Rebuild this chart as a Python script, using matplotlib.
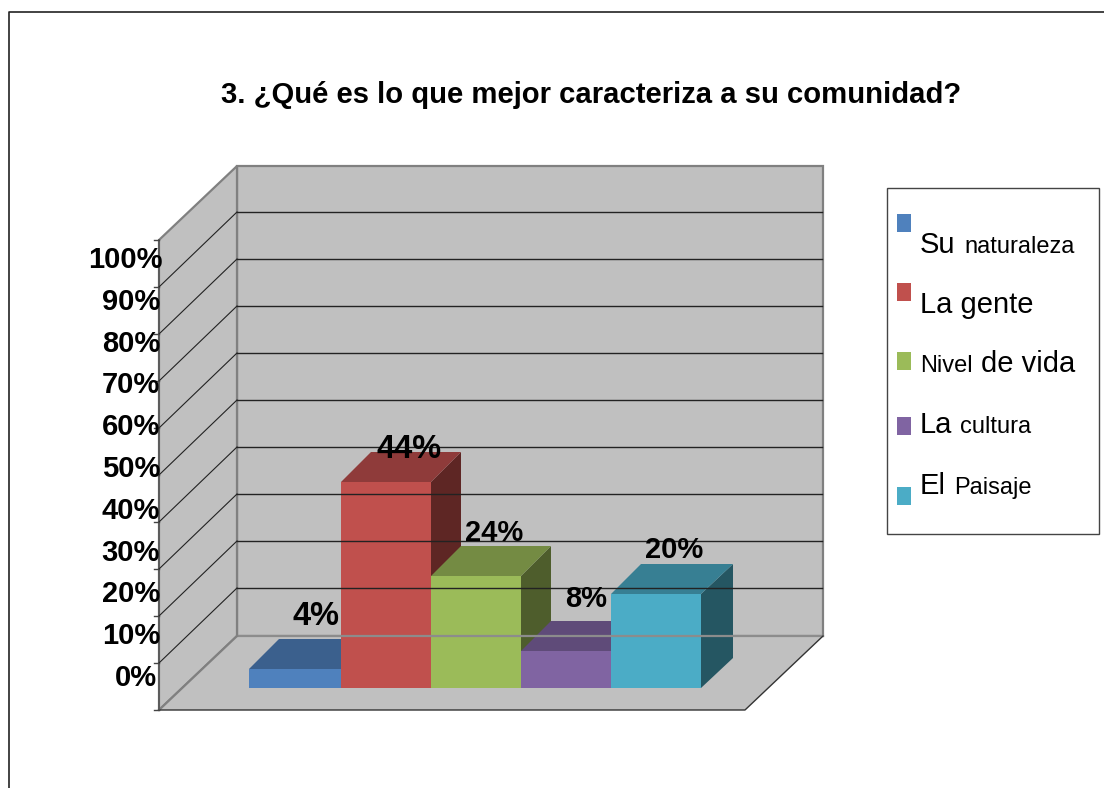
import matplotlib
matplotlib.use('Agg')
import matplotlib.pyplot as plt
from matplotlib.patches import Polygon, Rectangle

plt.rcParams['font.family'] = ['Liberation Sans', 'DejaVu Sans']

title = "3. ¿Qué es lo que mejor caracteriza a su comunidad?"
categories = ["Su naturaleza", "La gente", "Nivel de vida", "La cultura", "El Paisaje"]
values = [4, 44, 24, 8, 20]
tick_values = [0, 10, 20, 30, 40, 50, 60, 70, 80, 90, 100]

front_colors = ['#4F81BD', '#C0504D', '#9BBB59', '#8064A2', '#4BACC6']
top_colors = ['#3B608D', '#8F3B3A', '#748B43', '#5F4B79', '#377F93']
side_colors = ['#2B4566', '#5E2624', '#4E5D2C', '#443558', '#255662']

# layout in pixels of the 1104x788 picture
wall_left, wall_back, wall_right, floor_right = 159, 237, 823, 745
floor_front, floor_back = 710, 636
wall_scale = 4.70
bar_base = 688
bar_scale = 4.68
bar_lefts = [249, 341, 431, 521, 611]
bar_rights = [341, 431, 521, 611, 701]
depth_xs = [30, 30, 30, 30, 32]
depth_y = 30
label_x = [316, 409, 494, 586, 674]
label_gap = [44, 24, 35, 44, 36]
label_size = [23.5, 23.5, 21, 21, 21]


def wall_y(v):
    return floor_back - v * wall_scale


def bar_y(v):
    return round(bar_base - v * bar_scale)


fig = plt.figure(figsize=(11.04, 7.88), dpi=100)
ax = fig.add_axes([0, 0, 1, 1])
ax.set_xlim(0, 1104)
ax.set_ylim(788, 0)
ax.axis('off')

# outer frame
ax.plot([9, 9, 1104], [788, 12, 12], color='#222222', lw=1.2)

# walls and floor
ax.add_patch(Polygon([(wall_back, wall_y(0)), (wall_right, wall_y(0)), (wall_right, wall_y(100)), (wall_back, wall_y(100))],
                     facecolor='#C0C0C0', edgecolor='#808080', lw=1.6))
ax.add_patch(Polygon([(wall_left, floor_front), (wall_back, floor_back), (wall_back, wall_y(100)), (wall_left, floor_front - 100 * wall_scale)],
                     facecolor='#C0C0C0', edgecolor='#808080', lw=1.6))
ax.add_patch(Polygon([(wall_left, floor_front), (floor_right, floor_front), (wall_right, floor_back), (wall_back, floor_back)],
                     facecolor='#C0C0C0', edgecolor='none'))
ax.plot([wall_back, wall_right], [floor_back, floor_back], color='#8C8C8C', lw=1.6)
ax.plot([wall_left, wall_back], [floor_front, floor_back], color='#808080', lw=1.6)
ax.plot([wall_left, floor_right, wall_right], [floor_front, floor_front, floor_back], color='#333333', lw=1)
ax.plot([wall_left, wall_left], [floor_front, floor_front - 100 * wall_scale], color='#555555', lw=1.2)

# gridlines and ticks
for v in tick_values:
    y = wall_y(v)
    if 0 < v < 100:
        ax.plot([wall_back, wall_right - 1], [y - 1, y - 1], color='#222222', lw=1)
        ax.plot([wall_left, wall_back], [y + 74, y - 1], color='#222222', lw=0.8)
    ax.plot([wall_left - 5, wall_left], [y + 74, y + 74], color='#444444', lw=1)
    ax.text(157 if v == 0 else 160 if v < 100 else 163, 686 - v * 4.18, f"{v}%", ha='right', va='baseline',
            fontsize=21, fontweight='bold', color='black')

# bars, left to right so each one covers the side of the one before
for i, v in enumerate(values):
    x0, x1 = bar_lefts[i], bar_rights[i]
    dx = depth_xs[i]
    top = bar_y(v)
    ax.add_patch(Polygon([(x1, bar_base), (x1 + dx, bar_base - depth_y), (x1 + dx, top - depth_y), (x1, top)],
                         facecolor=side_colors[i], edgecolor='none'))
    ax.add_patch(Polygon([(x0, top), (x1, top), (x1 + dx, top - depth_y), (x0 + 30, top - depth_y)],
                         facecolor=top_colors[i], edgecolor='none'))
    ax.add_patch(Rectangle((x0, top), x1 - x0, bar_base - top, facecolor=front_colors[i], edgecolor='none'))

for i, v in enumerate(values):
    ax.text(label_x[i], bar_y(v) - label_gap[i], f"{v}%", ha='center', va='baseline',
            fontsize=label_size[i], fontweight='bold', color='black')

ax.text(591, 103, title, ha='center', va='baseline', fontsize=21.1, fontweight='bold', color='black')

# legend box, the labels mix two font sizes as in the original
ax.add_patch(Rectangle((887, 188), 212, 346, facecolor='white', edgecolor='#444444', lw=1))
swatch_tops = [214, 283, 352, 417, 487]
baselines = [253, 313, 372, 433, 494]
big, small = 21, 17
legend_parts = [(("Su", big, 920), ("naturaleza", small, 964)),
                (("La gente", big, 920),),
                (("Nivel", small, 920), ("de vida", big, 981)),
                (("La", big, 920), ("cultura", small, 960)),
                (("El", big, 920), ("Paisaje", small, 954))]
for i in range(len(categories)):
    ax.add_patch(Rectangle((897, swatch_tops[i]), 14, 18, facecolor=front_colors[i], edgecolor='none'))
    for text, size, x in legend_parts[i]:
        ax.text(x, baselines[i], text, ha='left', va='baseline', fontsize=size, color='black')

fig.savefig('out.png', dpi=100)
